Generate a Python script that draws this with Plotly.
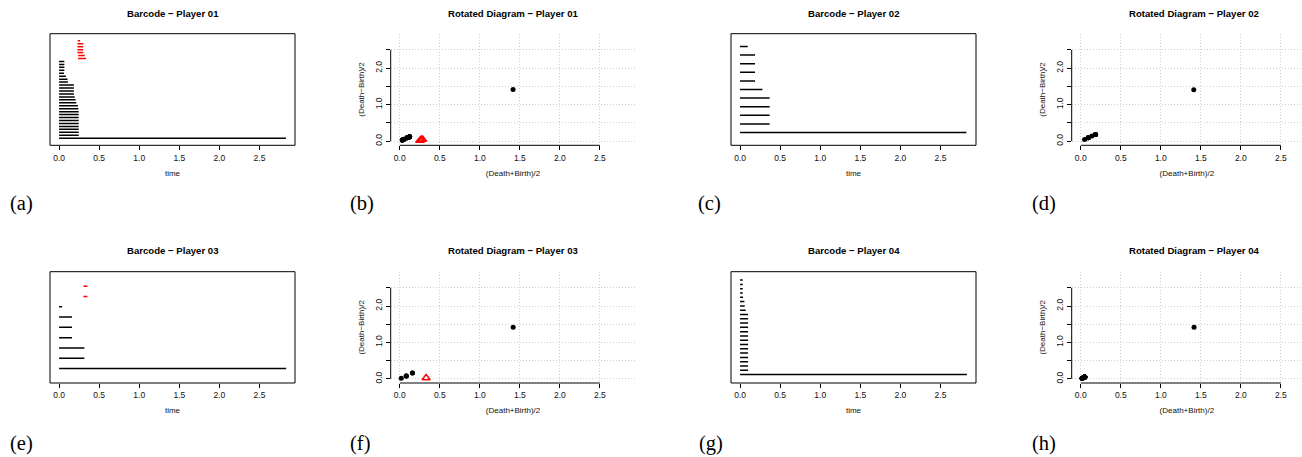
import plotly.graph_objects as go

W, H = 1302, 457

# ---------------- data: persistence intervals read from the barcodes ----------------
# (listed in barcode order, bottom to top; dimension-0 first, then dimension-1)
p01_h0_birth = [0.0] * 27
p01_h0_death = [2.83, 0.245, 0.245, 0.245, 0.245, 0.245, 0.245, 0.245, 0.245, 0.245, 0.24,
                0.235, 0.215, 0.205, 0.195, 0.185, 0.185, 0.185, 0.185, 0.11, 0.105, 0.085,
                0.062, 0.066, 0.066, 0.066, 0.066]
p01_h1_birth = [0.237, 0.237, 0.229, 0.229, 0.229, 0.229, 0.233]
p01_h1_death = [0.337, 0.32, 0.304, 0.30, 0.30, 0.304, 0.262]

p02_h0_birth = [0.0] * 11
p02_h0_death = [2.823, 0.369, 0.369, 0.369, 0.369, 0.278, 0.187, 0.187, 0.187, 0.187, 0.095]
p02_h1_birth = []
p02_h1_death = []

p03_h0_birth = [0.0] * 7
p03_h0_death = [2.833, 0.316, 0.316, 0.162, 0.162, 0.162, 0.037]
p03_h1_birth = [0.304, 0.304]
p03_h1_death = [0.354, 0.354]

p04_h0_birth = [0.0] * 23
p04_h0_death = [2.83] + [0.1] * 14 + [0.07, 0.058, 0.054, 0.037, 0.033, 0.033, 0.033, 0.033]
p04_h1_birth = []
p04_h1_death = []

players = ["01", "02", "03", "04"]
data = {
    "01": (p01_h0_birth, p01_h0_death, p01_h1_birth, p01_h1_death),
    "02": (p02_h0_birth, p02_h0_death, p02_h1_birth, p02_h1_death),
    "03": (p03_h0_birth, p03_h0_death, p03_h1_birth, p03_h1_death),
    "04": (p04_h0_birth, p04_h0_death, p04_h1_birth, p04_h1_death),
}
panel_letters = ["(a)", "(b)", "(c)", "(d)", "(e)", "(f)", "(g)", "(h)"]
tick_vals = [0, 0.5, 1.0, 1.5, 2.0, 2.5]
tick_text_x = ["0.0", "0.5", "1.0", "1.5", "2.0", "2.5"]
tick_text_y = ["0.0", "", "1.0", "", "2.0", ""]

# ---------------- layout geometry (pixels) ----------------
MAXD = 2.83
XR = [-0.04 * MAXD, 1.04 * MAXD]
row_px = [(33.7, 145.3), (271.7, 383.0)]
title_py = [14.0, 250.7]
letter_py = [204.0, 443.0]
bar_cols = [(50.0, 295.0), (731.0, 976.0)]
rot_cols = [(390.7, 635.4), (1071.7, 1316.4)]
letter_px = [[8, 348, 696, 1030], [8, 348, 697, 1030]]

FONT = "Liberation Sans"
BLACK = "#000000"
TXT = "#111111"
RED = "#FF0000"
GRID = "#cfcfcf"
GRID_DASH = "1px,2px"
TICK_SIZE = 8.5
LAB_SIZE = 8


def fx(px):
    return px / W


def fy(py):
    return 1 - py / H


fig = go.Figure()
layout = dict(width=W, height=H, margin=dict(l=0, r=0, t=0, b=0),
              paper_bgcolor="white", plot_bgcolor="white", showlegend=False)
annotations = []
shapes = []

k = 0
for idx, pl in enumerate(players):
    r = idx // 2
    c = idx % 2
    hb0, hd0, hb1, hd1 = data[pl]
    y0px, y1px = row_px[r]
    ydom = [fy(y1px), fy(y0px)]

    # ---------- barcode ----------
    k += 1
    ax = "" if k == 1 else str(k)
    n = len(hb0) + len(hb1)
    xs0, ys0, xs1, ys1 = [], [], [], []
    row = 0
    for b, d in zip(hb0, hd0):
        row += 1
        xs0 += [b, d, None]
        ys0 += [row, row, None]
    for b, d in zip(hb1, hd1):
        row += 1
        xs1 += [b, d, None]
        ys1 += [row, row, None]
    fig.add_trace(go.Scatter(x=xs0, y=ys0, mode="lines", line=dict(color=BLACK, width=1.5),
                             xaxis="x" + ax, yaxis="y" + ax, hoverinfo="skip"))
    if xs1:
        fig.add_trace(go.Scatter(x=xs1, y=ys1, mode="lines", line=dict(color=RED, width=1.5),
                                 xaxis="x" + ax, yaxis="y" + ax, hoverinfo="skip"))
    bx0, bx1 = bar_cols[c]
    layout["xaxis" + ax] = dict(domain=[fx(bx0), fx(bx1)], range=XR, anchor="y" + ax,
                                tickmode="array", tickvals=tick_vals, ticktext=tick_text_x,
                                ticks="outside", ticklen=4, tickwidth=1, tickcolor=BLACK,
                                showline=False, showgrid=False, zeroline=False,
                                tickfont=dict(family=FONT, size=TICK_SIZE, color=TXT),
                                title=dict(text="time", font=dict(family=FONT, size=LAB_SIZE, color=TXT),
                                           standoff=8))
    layout["yaxis" + ax] = dict(domain=ydom, range=[-0.04 * (n + 1), 1.04 * (n + 1)],
                                anchor="x" + ax, visible=False, showgrid=False, zeroline=False)
    shapes.append(dict(type="rect", xref="x" + ax + " domain", yref="y" + ax + " domain",
                       x0=0, x1=1, y0=0, y1=1, line=dict(color=BLACK, width=1)))
    annotations.append(dict(text="<b>Barcode − Player " + pl + "</b>", x=fx((bx0 + bx1) / 2),
                            y=fy(title_py[r]), xref="paper", yref="paper", showarrow=False,
                            xanchor="center", yanchor="middle",
                            font=dict(family=FONT, size=9.6, color=BLACK)))
    annotations.append(dict(text=panel_letters[k - 1], x=fx(letter_px[r][2 * c]), y=fy(letter_py[r]),
                            xref="paper", yref="paper", showarrow=False, xanchor="left",
                            yanchor="middle",
                            font=dict(family="Liberation Serif", size=20.5, color=BLACK)))

    # ---------- rotated diagram ----------
    k += 1
    ax = str(k)
    rx0, rx1 = rot_cols[c]
    px_per_unit = (rx1 - rx0) / (XR[1] - XR[0])
    rx1c = min(rx1, W)
    xr = [XR[0], XR[0] + (rx1c - rx0) / px_per_unit]
    mx0 = [(d + b) / 2 for b, d in zip(hb0, hd0)]
    my0 = [(d - b) / 2 for b, d in zip(hb0, hd0)]
    mx1 = [(d + b) / 2 for b, d in zip(hb1, hd1)]
    my1 = [(d - b) / 2 for b, d in zip(hb1, hd1)]
    fig.add_trace(go.Scatter(x=mx0, y=my0, mode="markers",
                             marker=dict(color=BLACK, size=5, symbol="circle"),
                             xaxis="x" + ax, yaxis="y" + ax, hoverinfo="skip"))
    if mx1:
        fig.add_trace(go.Scatter(x=mx1, y=my1, mode="markers",
                                 marker=dict(color=RED, size=7, symbol="triangle-up-open",
                                             line=dict(width=1.2, color=RED)),
                                 xaxis="x" + ax, yaxis="y" + ax, hoverinfo="skip"))
    layout["xaxis" + ax] = dict(domain=[fx(rx0), fx(rx1c)], range=xr, anchor="y" + ax,
                                tickmode="array", tickvals=tick_vals, ticktext=tick_text_x,
                                ticks="outside", ticklen=4, tickwidth=1, tickcolor=BLACK,
                                showline=False, showgrid=True, gridcolor=GRID, griddash=GRID_DASH,
                                gridwidth=1, zeroline=False,
                                tickfont=dict(family=FONT, size=TICK_SIZE, color=TXT),
                                title=dict(text="(Death+Birth)/2",
                                           font=dict(family=FONT, size=LAB_SIZE, color=TXT),
                                           standoff=8))
    layout["yaxis" + ax] = dict(domain=ydom, range=XR, anchor="x" + ax,
                                tickmode="array", tickvals=tick_vals, ticktext=tick_text_y,
                                tickangle=-90,
                                ticks="outside", ticklen=4, tickwidth=1, tickcolor=BLACK,
                                showline=False, showgrid=True, gridcolor=GRID, griddash=GRID_DASH,
                                gridwidth=1, zeroline=False,
                                tickfont=dict(family=FONT, size=TICK_SIZE, color=TXT),
                                title=dict(text="(Death−Birth)/2",
                                           font=dict(family=FONT, size=LAB_SIZE, color=TXT),
                                           standoff=8))
    shapes.append(dict(type="line", xref="x" + ax, yref="y" + ax + " domain",
                       x0=0, x1=2.5, y0=0, y1=0, line=dict(color=BLACK, width=1)))
    shapes.append(dict(type="line", xref="x" + ax + " domain", yref="y" + ax,
                       x0=0, x1=0, y0=0, y1=2.5, line=dict(color=BLACK, width=1)))
    annotations.append(dict(text="<b>Rotated Diagram − Player " + pl + "</b>",
                            x=fx((rx0 + rx1) / 2), y=fy(title_py[r]), xref="paper", yref="paper",
                            showarrow=False, xanchor="center", yanchor="middle",
                            font=dict(family=FONT, size=9.6, color=BLACK)))
    annotations.append(dict(text=panel_letters[k - 1], x=fx(letter_px[r][2 * c + 1]),
                            y=fy(letter_py[r]), xref="paper", yref="paper", showarrow=False,
                            xanchor="left", yanchor="middle",
                            font=dict(family="Liberation Serif", size=20.5, color=BLACK)))

layout["annotations"] = annotations
layout["shapes"] = shapes
fig.update_layout(**layout)
fig.write_html("out.html")
